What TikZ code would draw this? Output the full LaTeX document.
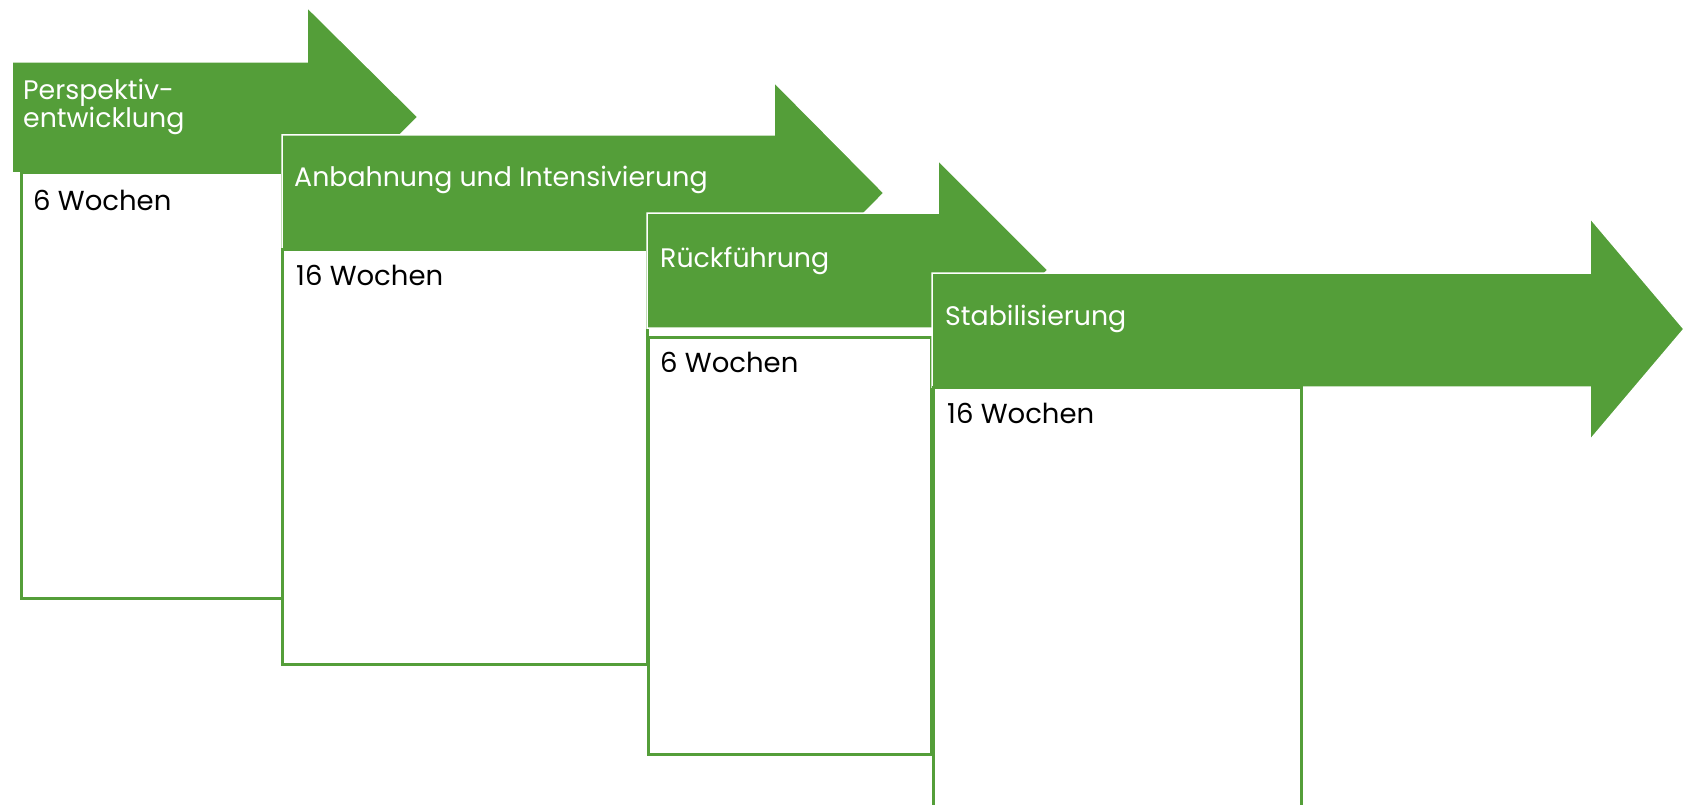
\documentclass[tikz,border=0pt]{standalone}
\usepackage{fontspec}
\setmainfont{Poppins}
\definecolor{phase}{HTML}{549E39}
\tikzset{
  phasearrow/.style={fill=phase,draw=white,line width=1.5pt},
  phasebox/.style={fill=white,draw=phase,line width=3pt},
  phaselabel/.style={anchor=base west,inner sep=0pt,text=white,font=\fontsize{26.8}{32}\selectfont},
  weeks/.style={anchor=base west,inner sep=0pt,font=\fontsize{27.5}{32}\selectfont}
}
\begin{document}
\begin{tikzpicture}[x=1pt,y=-1pt]
  \useasboundingbox (0,0) rectangle (1683,805);
  \clip (0,0) rectangle (1683,805);

  % phase 1
  \draw[phasearrow] (12,62) -- (307,62) -- (307,7) -- (418,117) -- (307,227) -- (307,173) -- (12,173) -- cycle;
  \draw[phasebox] (21,173) rectangle (282,598);
  \node[phaselabel] (perspa) at (23,100) {Perspektiv-};
  \node[phaselabel] (perspb) at (23,128) {entwicklung};
  \node[weeks] (wpersp) at (33,211) {6 Wochen};

  % phase 2
  \draw[phasearrow] (282,135) -- (774,135) -- (774,82) -- (884,193) -- (774,304) -- (774,249) -- (282,249) -- cycle;
  \draw[phasebox] (282,249) rectangle (647,664);
  \node[phaselabel] (anbahn) at (294,187) {Anbahnung und Intensivierung};
  \node[weeks] (wanbahn) at (296,285) {16 Wochen};

  % phase 3
  \draw[phasearrow] (647,213) -- (938,213) -- (938,160) -- (1048,270) -- (938,380) -- (938,328) -- (647,328) -- cycle;
  \draw[phasebox] (648,337) rectangle (931,754);
  \node[phaselabel] (rueck) at (660,267) {Rückführung};
  \node[weeks] (wrueck) at (660,372) {6 Wochen};

  % phase 4
  \draw[phasearrow] (932,273) -- (1590,273) -- (1590,218) -- (1684,329) -- (1590,440) -- (1590,387) -- (932,387) -- cycle;
  \draw[phasebox] (933,387) rectangle (1301,830);
  \node[phaselabel] (stabil) at (945,325) {Stabilisierung};
  \node[weeks] (wstabil) at (947,423) {16 Wochen};
\end{tikzpicture}
\end{document}
